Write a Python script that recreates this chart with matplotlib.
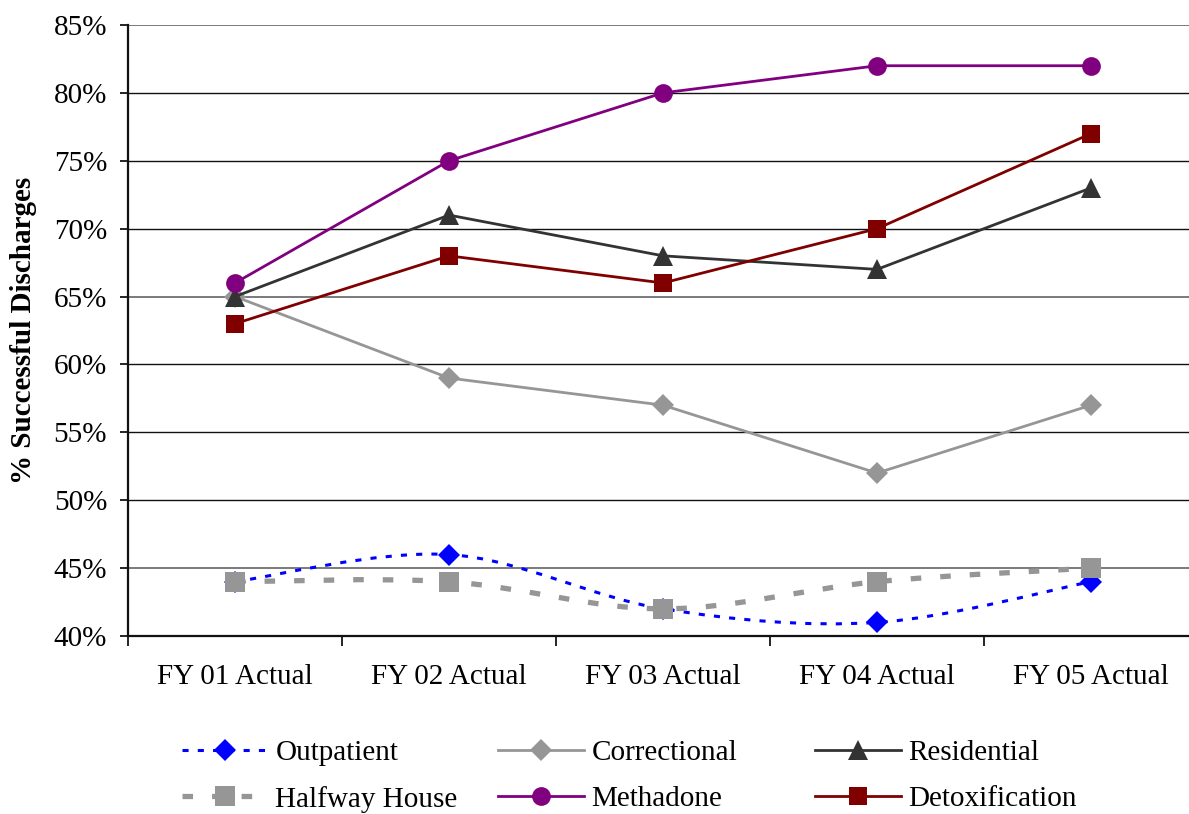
import matplotlib
matplotlib.use("Agg")
import matplotlib.pyplot as plt
from matplotlib.path import Path
from matplotlib.patches import PathPatch
from matplotlib.lines import Line2D
import numpy as np

# ---- data -------------------------------------------------------------
categories = ["FY 01 Actual", "FY 02 Actual", "FY 03 Actual", "FY 04 Actual", "FY 05 Actual"]
outpatient = [44, 46, 42, 41, 44]
correctional = [65, 59, 57, 52, 57]
residential = [65, 71, 68, 67, 73]
halfway_house = [44, 44, 42, 44, 45]
methadone = [66, 75, 80, 82, 82]
detoxification = [63, 68, 66, 70, 77]
y_ticks = [40, 45, 50, 55, 60, 65, 70, 75, 80, 85]
y_tick_labels = ["40%", "45%", "50%", "55%", "60%", "65%", "70%", "75%", "80%", "85%"]

plt.rcParams["font.family"] = ["Liberation Serif", "DejaVu Serif"]
FS = 21

W, H = 1189, 814
fig = plt.figure(figsize=(W / 100, H / 100), dpi=100)
ax = fig.add_axes([128 / W, 178 / H, 1070 / W, 611 / H])

x = np.arange(len(categories))


def smooth_path(xs, ys):
    """Cubic Bezier path through the points (Catmull-Rom style tangents)."""
    pts = np.column_stack([xs, ys]).astype(float)
    n = len(pts)
    verts = [pts[0]]
    codes = [Path.MOVETO]
    for i in range(n - 1):
        p_prev = pts[i - 1] if i > 0 else pts[i]
        p0 = pts[i]
        p1 = pts[i + 1]
        p_next = pts[i + 2] if i + 2 < n else pts[i + 1]
        c1 = p0 + (p1 - p_prev) / 6.0
        c2 = p1 - (p_next - p0) / 6.0
        verts += [c1, c2, p1]
        codes += [Path.CURVE4] * 3
    return Path(verts, codes)


series = [
    # label, values, colour, marker, size, linewidth, dashes, smoothed
    ("Outpatient", outpatient, "#0000FF", "D", 11, 2.2, (2, 3), True),
    ("Correctional", correctional, "#969696", "D", 11, 2.0, None, False),
    ("Residential", residential, "#333333", "^", 14, 2.0, None, False),
    ("Halfway House", halfway_house, "#969696", "s", 14, 3.8, (2, 3.6), True),
    ("Methadone", methadone, "#800080", "o", 13.5, 2.0, None, False),
    ("Detoxification", detoxification, "#800000", "s", 13, 2.0, None, False),
]

handles = []
for k, (label, vals, col, mk, ms, lw, dash, smooth) in enumerate(series):
    ls = "-" if dash is None else (0, dash)
    z = 3 + k
    if smooth:
        patch = PathPatch(smooth_path(x, vals), fill=False, edgecolor=col,
                          linewidth=lw, linestyle=ls, capstyle="butt", zorder=z)
        ax.add_patch(patch)
        ax.plot(x, vals, linestyle="none", marker=mk, markersize=ms,
                color=col, markeredgewidth=0, zorder=z)
    else:
        ax.plot(x, vals, linestyle=ls, linewidth=lw, marker=mk, markersize=ms,
                color=col, markeredgewidth=0, zorder=z)
    handles.append(Line2D([], [], color=col, linestyle=ls, linewidth=lw,
                          marker=mk, markersize=ms, markeredgewidth=0,
                          dash_capstyle="butt", label=label))

# ---- axes -------------------------------------------------------------
ax.set_xlim(-0.5, len(categories) - 0.5)
ax.set_ylim(40, 85)
ax.set_yticks(y_ticks)
ax.set_yticklabels(y_tick_labels, fontsize=FS)
ax.tick_params(axis="y", direction="out", length=6, width=1.2, pad=9)

# category boundaries carry the tick marks, labels sit at category centres
ax.set_xticks(np.arange(len(categories) + 1) - 0.5)
ax.set_xticklabels([])
ax.set_xticks(x, minor=True)
ax.set_xticklabels(categories, minor=True, fontsize=FS)
ax.tick_params(axis="x", which="major", direction="out", length=7, width=1.2)
ax.tick_params(axis="x", which="minor", length=0, pad=20)

for v in y_ticks[1:]:
    grey = v in (45, 65, 85)
    ax.axhline(v, color="#6f6f6f" if grey else "#111111",
               linewidth=1.3 if grey else 1.0, zorder=1)

for side in ("top", "right"):
    ax.spines[side].set_visible(False)
ax.spines["left"].set_linewidth(1.6)
ax.spines["bottom"].set_linewidth(1.6)
ax.spines["left"].set_color("#111111")
ax.spines["bottom"].set_color("#111111")

ax.set_ylabel("% Successful Discharges", fontsize=FS, fontweight="bold")
ax.yaxis.set_label_coords(-0.085, 0.5)

# ---- legend: three columns of two entries ---------------------------------
col_x = [182, 498, 815]
for c in range(3):
    leg = fig.legend(handles=[handles[c], handles[c + 3]],
                     loc="center left", bbox_to_anchor=(col_x[c] / W, 38 / H),
                     frameon=False, fontsize=FS, handlelength=2.95,
                     handletextpad=0.25, labelspacing=0.68, borderpad=0,
                     borderaxespad=0, numpoints=1)

fig.savefig("out.png", dpi=100)
